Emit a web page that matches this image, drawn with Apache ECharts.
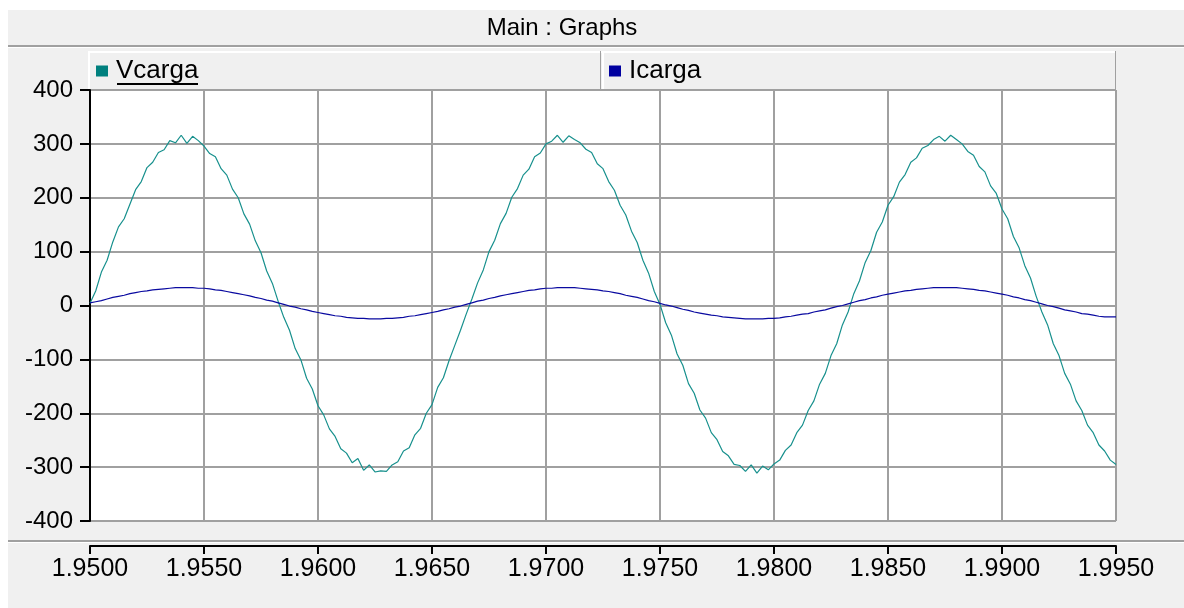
<!DOCTYPE html>
<html>
<head>
<meta charset="utf-8">
<script src="https://cdn.jsdelivr.net/npm/echarts@6/dist/echarts.min.js"></script>
<style>
html,body{margin:0;padding:0;background:#fff;}
#chart{width:1184px;height:608px;}
</style>
</head>
<body>
<div id="chart"></div>
<script>
// Sample grid (seconds)
const tStart = 1.95;
const tStep = 0.00025;
const xTicks = ['1.9500','1.9550','1.9600','1.9650','1.9700','1.9750','1.9800','1.9850','1.9900','1.9950'];
const yTicks = [-400,-300,-200,-100,0,100,200,300,400];
const seriesNames = ['Vcarga','Icarga'];

// Vcarga values
const vcarga = [
4,27,62,84,118,146,161,188,215,230,
256,266,284,289,306,302,316,301,314,306,
296,282,276,254,242,216,200,170,151,120,
98,64,41,8,-22,-46,-80,-101,-135,-155,
-186,-203,-229,-243,-266,-274,-292,-284,-306,-296,
-309,-307,-308,-296,-290,-270,-264,-240,-228,-200,
-184,-152,-134,-102,-74,-46,-16,12,42,66,
100,121,152,171,201,217,242,253,276,283,
300,305,316,303,315,308,302,290,284,263,
254,230,214,186,168,138,117,84,60,26,
2,-32,-55,-90,-111,-145,-163,-194,-209,-236,
-249,-271,-279,-295,-297,-308,-296,-311,-298,-305,
-294,-287,-269,-259,-236,-222,-195,-177,-146,-126,
-93,-71,-36,-12,22,46,80,102,136,155,
186,202,229,243,266,274,292,297,308,314,
305,316,308,300,286,279,258,248,222,208,
179,161,128,107,74,51,17,-12,-36,-71,
-93,-126,-146,-177,-195,-222,-236,-259,-270,-287,
-295
];

// Icarga values
const icarga = [
5,7,9,12,15,17,19,22,24,26,
27,29,30,31,32,33,33,33,33,32,
32,31,29,28,26,24,22,20,18,15,
13,10,8,5,2,-1,-3,-6,-8,-11,
-13,-15,-17,-19,-20,-22,-23,-24,-24,-25,
-25,-25,-24,-24,-23,-22,-20,-19,-17,-15,
-13,-11,-8,-6,-3,-1,2,5,8,10,
13,15,18,20,22,24,26,28,29,31,
32,32,33,33,33,33,32,31,30,29,
27,26,24,22,19,17,15,12,9,7,
4,1,-1,-4,-7,-9,-12,-14,-16,-18,
-19,-21,-22,-23,-24,-25,-25,-25,-25,-24,
-24,-23,-21,-20,-18,-16,-15,-12,-10,-8,
-5,-2,0,3,6,9,11,14,16,19,
21,23,25,27,28,30,31,32,33,33,
33,33,33,32,31,30,28,27,25,23,
21,19,16,14,11,9,6,3,0,-2,
-5,-8,-10,-12,-15,-16,-18,-20,-21,-21,
-21
];

const FONT = "'Liberation Sans',Arial,sans-serif";

const vData = vcarga.map((v, i) => [+(tStart + i * tStep).toFixed(5), v]);
const iData = icarga.map((v, i) => [+(tStart + i * tStep).toFixed(5), v]);

const chart = echarts.init(document.getElementById('chart'), null, {renderer: 'canvas'});
chart.setOption({
  animation: false,
  backgroundColor: '#ffffff',
  textStyle: {fontFamily: FONT},
  graphic: [
    {type: 'rect', z: -20, silent: true, shape: {x: 8, y: 10, width: 1176, height: 598}, style: {fill: '#f0f0f0'}},
    {type: 'rect', z: -19, silent: true, shape: {x: 8, y: 45, width: 1176, height: 2}, style: {fill: '#a0a0a0'}},
    {type: 'rect', z: -19, silent: true, shape: {x: 8, y: 47, width: 1176, height: 1}, style: {fill: '#ffffff'}},
    {type: 'rect', z: -19, silent: true, shape: {x: 88, y: 51, width: 1028, height: 2}, style: {fill: '#ffffff'}},
    {type: 'rect', z: -19, silent: true, shape: {x: 88, y: 51, width: 2, height: 39}, style: {fill: '#ffffff'}},
    {type: 'rect', z: -19, silent: true, shape: {x: 600, y: 51, width: 1, height: 39}, style: {fill: '#a0a0a0'}},
    {type: 'rect', z: -19, silent: true, shape: {x: 602, y: 53, width: 2, height: 37}, style: {fill: '#ffffff'}},
    {type: 'rect', z: -19, silent: true, shape: {x: 1115, y: 51, width: 1, height: 39}, style: {fill: '#a0a0a0'}},
    {type: 'rect', z: -19, silent: true, shape: {x: 8, y: 540, width: 1176, height: 2}, style: {fill: '#a0a0a0'}},
    {type: 'rect', z: -19, silent: true, shape: {x: 8, y: 542, width: 1176, height: 1}, style: {fill: '#ffffff'}},
    {type: 'text', z: 10, silent: true, x: 562, y: 28,
      style: {text: 'Main : Graphs', fontSize: 24, fontFamily: FONT, fill: '#000', align: 'center', verticalAlign: 'middle'}},
    {type: 'rect', z: 10, silent: true, shape: {x: 117, y: 83, width: 81, height: 2}, style: {fill: '#000'}}
  ],
  legend: [
    {data: ['Vcarga'], left: 96, top: 56, padding: 0, itemWidth: 12, itemHeight: 11, icon: 'rect', selectedMode: false,
      textStyle: {fontSize: 26, color: '#000', fontFamily: FONT, padding: [0, 0, 0, 3], lineHeight: 30}},
    {data: ['Icarga'], left: 609, top: 56, padding: 0, itemWidth: 12, itemHeight: 11, icon: 'rect', selectedMode: false,
      textStyle: {fontSize: 26, color: '#000', fontFamily: FONT, padding: [0, 0, 0, 3], lineHeight: 30}}
  ],
  grid: {left: 90, right: 68, top: 90, bottom: 87, show: true, backgroundColor: '#ffffff', borderWidth: 0, containLabel: false},
  xAxis: {
    type: 'value', min: 1.95, max: 1.995, interval: 0.005, offset: 25,
    axisLine: {show: true, onZero: false, lineStyle: {color: '#000', width: 2}},
    axisTick: {show: true, length: 8, lineStyle: {color: '#000', width: 2}},
    axisLabel: {margin: 11, fontSize: 25, color: '#000', fontFamily: FONT,
      formatter: v => xTicks[Math.round((v - tStart) / 0.005)] || v.toFixed(4)},
    splitLine: {show: true, lineStyle: {color: '#a0a0a0', width: 2}}
  },
  yAxis: {
    type: 'value', min: -400, max: 400, interval: 100,
    axisLine: {show: true, onZero: false, lineStyle: {color: '#000', width: 2}},
    axisTick: {show: true, length: 10, lineStyle: {color: '#000', width: 2}},
    axisLabel: {margin: 17, fontSize: 24, color: '#000', fontFamily: FONT,
      formatter: v => String(yTicks[Math.round((v + 400) / 100)])},
    splitLine: {show: true, lineStyle: {color: '#a0a0a0', width: 2}}
  },
  series: [
    {name: seriesNames[0], type: 'line', data: vData, showSymbol: false, symbol: 'none',
      itemStyle: {color: '#00807e'}, lineStyle: {color: '#17908d', width: 1.2}, z: 3},
    {name: seriesNames[1], type: 'line', data: iData, showSymbol: false, symbol: 'none',
      itemStyle: {color: '#0000a0'}, lineStyle: {color: '#0a0aa0', width: 1.2}, z: 4}
  ]
});
</script>
</body>
</html>
